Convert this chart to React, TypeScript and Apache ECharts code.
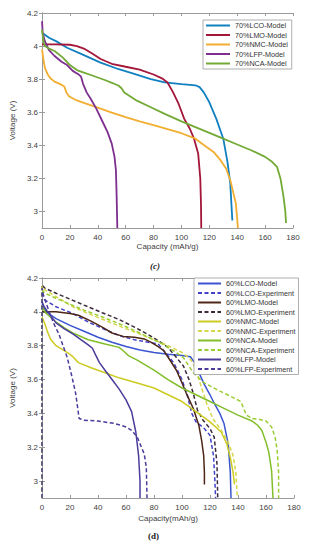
import React, { useEffect, useRef } from "react";
import * as echarts from "echarts";

type P = [number, number][];

// ---- Chart (c): 70% models ----
const lco70: P = [[0,4.08],[5,4.05],[10,4.03],[18,3.99],[30,3.945],[42,3.9],[55,3.86],[65,3.835],[78,3.8],[88,3.78],[100,3.77],[110,3.763],[113,3.752],[116,3.72],[120,3.66],[125,3.56],[130,3.44],[133,3.3],[135,3.17],[136.5,2.945]];
const lmo70: P = [[0,4.01],[10,4.01],[20,4.008],[25,4.0],[30,3.985],[36,3.955],[42,3.922],[50,3.893],[60,3.875],[70,3.858],[80,3.828],[86,3.805],[90,3.78],[94,3.72],[98,3.65],[102,3.56],[106,3.5],[109,3.44],[112,3.35],[113.5,3.2],[114,3.05],[114.2,2.9]];
const nmc70: P = [[0,3.98],[1,3.92],[2,3.87],[4,3.83],[6,3.805],[9,3.785],[13,3.77],[16,3.755],[17.5,3.72],[19.5,3.695],[24,3.675],[30,3.657],[40,3.628],[50,3.598],[60,3.57],[70,3.545],[80,3.522],[90,3.498],[100,3.473],[110,3.44],[118,3.39],[123,3.36],[128,3.31],[132,3.26],[135,3.19],[137,3.12],[139,3.05],[140.5,2.9]];
const lfp70: P = [[0,4.15],[0.5,4.08],[2,4.03],[5,3.975],[9,3.94],[14,3.905],[18,3.885],[22,3.85],[26,3.83],[28,3.815],[29.5,3.77],[32,3.72],[35,3.68],[39,3.62],[43,3.55],[47,3.48],[50,3.41],[52,3.33],[53,3.25],[53.5,3.1],[54,2.9]];
const nca70: P = [[0,4.1],[1,4.03],[2,4.0],[5,3.985],[9,3.97],[15,3.93],[20,3.885],[25,3.855],[30,3.84],[35,3.825],[45,3.795],[51,3.775],[55,3.76],[57,3.745],[59,3.72],[68,3.67],[78,3.63],[88,3.59],[100,3.545],[110,3.51],[120,3.475],[130,3.44],[140,3.405],[150,3.37],[160,3.33],[165,3.3],[168.5,3.27],[171,3.2],[173,3.1],[174.5,3.0],[175,2.93]];

// ---- Chart (d): 60% models and experiments ----
const lcoModel60: P = [[0,4.05],[3,4.0],[10,3.96],[20,3.92],[30,3.885],[40,3.85],[50,3.82],[60,3.795],[70,3.775],[80,3.76],[90,3.75],[100,3.742],[106,3.735],[109,3.7],[111,3.66],[116,3.57],[120,3.51],[123,3.46],[127,3.4],[130,3.34],[133,3.22],[134.5,3.05],[135,2.9]];
const lcoExp60: P = [[0,2.9],[0,4.1],[2,4.07],[10,4.03],[22,3.99],[33,3.94],[45,3.895],[55,3.86],[66,3.835],[76,3.82],[83,3.81],[88,3.76],[94,3.7],[100,3.6],[104,3.5],[107,3.4],[110,3.35],[116,3.31],[120,3.27],[122.5,3.15],[123.5,3.0],[124,2.9]];
const lmoModel60: P = [[0,4.0],[10,4.0],[20,3.99],[26,3.98],[35,3.945],[43,3.91],[50,3.875],[58,3.855],[66,3.85],[73,3.84],[78,3.82],[83,3.795],[87,3.77],[91,3.72],[96,3.655],[100,3.58],[103,3.52],[108,3.43],[112,3.33],[114,3.24],[115.5,3.15],[116,3.05],[116,2.98]];
const lmoExp60: P = [[0,2.9],[0,4.16],[2,4.14],[10,4.11],[20,4.075],[30,4.04],[43,3.995],[55,3.955],[66,3.91],[75,3.87],[82,3.835],[90,3.79],[96,3.73],[101,3.68],[105,3.6],[108,3.52],[111,3.42],[115,3.36],[120,3.31],[123,3.26],[125,3.1],[125.5,2.9]];
const nmcModel60: P = [[0,3.97],[2,3.93],[4,3.88],[6,3.84],[10,3.8],[15,3.775],[19,3.755],[22,3.735],[26,3.7],[35,3.67],[45,3.64],[55,3.61],[68,3.58],[80,3.55],[90,3.51],[100,3.47],[110,3.41],[120,3.35],[128,3.29],[132,3.22],[134.5,3.14],[136.5,3.05],[137.5,2.98]];
const nmcExp60: P = [[0,2.9],[0,4.15],[2,4.13],[10,4.09],[22,4.03],[33,3.99],[45,3.95],[57,3.91],[68,3.875],[80,3.835],[90,3.8],[100,3.76],[106,3.72],[110,3.66],[114,3.55],[118,3.45],[122,3.37],[128,3.3],[133,3.23],[136.5,3.15],[138.5,3.05],[139.5,2.9]];
const ncaModel60: P = [[0,4.03],[3,3.99],[10,3.94],[16,3.905],[22,3.875],[33,3.835],[45,3.81],[55,3.79],[58,3.77],[62,3.74],[68,3.715],[80,3.655],[90,3.6],[100,3.55],[110,3.51],[120,3.47],[130,3.43],[140,3.39],[150,3.355],[154,3.33],[157,3.3],[160,3.23],[162,3.17],[164,3.06],[165,2.9]];
const ncaExp60: P = [[0,2.9],[0,4.13],[2,4.11],[10,4.08],[20,4.045],[30,4.01],[43,3.97],[55,3.93],[66,3.89],[76,3.85],[85,3.815],[95,3.765],[101,3.73],[108,3.64],[115,3.585],[125,3.54],[135,3.5],[142,3.47],[144,3.43],[146,3.39],[150,3.37],[155,3.365],[160,3.355],[164,3.32],[166.5,3.26],[168,3.18],[169,3.05],[169,2.9]];
const lfpModel60: P = [[0,4.06],[1.5,4.03],[4,4.0],[10,3.935],[16,3.9],[22,3.87],[28,3.835],[33,3.805],[36,3.785],[38,3.75],[41,3.7],[45,3.655],[50,3.6],[55,3.545],[60,3.48],[64,3.41],[67,3.29],[69,3.15],[70,3.0],[70,2.9]];
const lfpExp60: P = [[0,2.9],[0,4.14],[1,4.1],[3,4.05],[6,3.98],[9,3.92],[12,3.87],[15,3.8],[18,3.73],[21,3.63],[24,3.52],[25.5,3.43],[26.5,3.37],[30,3.36],[40,3.355],[52,3.34],[60,3.32],[64,3.3],[68,3.26],[71,3.2],[73,3.16],[74.5,3.08],[75,2.9]];

const yTicks = [3, 3.2, 3.4, 3.6, 3.8, 4, 4.2];
const xTicks = [0, 20, 40, 60, 80, 100, 120, 140, 160, 180];

const FONT = "Liberation Sans, Arial, sans-serif";
const AXIS_COLOR = "#9a9a9a";
const LABEL_COLOR = "#404040";

function xAxes(gridIndex: number, nameGap: number, name: string) {
  return [
    {
      type: "value", gridIndex, position: "bottom", min: 0, max: 180, interval: 20,
      name, nameLocation: "middle", nameGap,
      nameTextStyle: { fontSize: 8, color: LABEL_COLOR, fontFamily: FONT },
      axisLine: { lineStyle: { color: AXIS_COLOR, width: 1 } },
      axisTick: { inside: true, length: 3, lineStyle: { color: AXIS_COLOR } },
      axisLabel: { fontSize: 8, color: LABEL_COLOR, margin: 5, fontFamily: FONT, customValues: xTicks },
      splitLine: { show: false },
    },
    {
      type: "value", gridIndex, position: "top", min: 0, max: 180, interval: 20,
      axisLine: { lineStyle: { color: AXIS_COLOR, width: 1 } },
      axisTick: { inside: true, length: 3, lineStyle: { color: AXIS_COLOR } },
      axisLabel: { show: false },
      splitLine: { show: false },
    },
  ];
}

function yAxes(gridIndex: number, nameGap: number) {
  return [
    {
      type: "value", gridIndex, position: "left", min: 2.9, max: 4.2,
      name: "Voltage (V)", nameLocation: "middle", nameGap,
      nameTextStyle: { fontSize: 8, color: LABEL_COLOR, fontFamily: FONT },
      axisLine: { show: true, lineStyle: { color: AXIS_COLOR, width: 1 } },
      axisTick: { show: true, inside: true, length: 3, lineStyle: { color: AXIS_COLOR }, customValues: yTicks },
      axisLabel: { fontSize: 8, color: LABEL_COLOR, margin: 4, fontFamily: FONT, customValues: yTicks, formatter: (v: number) => String(Math.round(v * 10) / 10) },
      splitLine: { show: false },
    },
    {
      type: "value", gridIndex, position: "right", min: 2.9, max: 4.2,
      axisLine: { show: true, lineStyle: { color: AXIS_COLOR, width: 1 } },
      axisTick: { show: true, inside: true, length: 3, lineStyle: { color: AXIS_COLOR }, customValues: yTicks },
      axisLabel: { show: false },
      splitLine: { show: false },
    },
  ];
}

function line(name: string, data: P, color: string, axis: number, width: number, dashed = false) {
  return {
    type: "line", name, data, xAxisIndex: axis, yAxisIndex: axis,
    symbol: "none", smooth: false, silent: true,
    lineStyle: { color, width, type: dashed ? [4, 2.5] : "solid" },
    itemStyle: { color },
  };
}

export default function App() {
  const ref = useRef<HTMLDivElement>(null);
  useEffect(() => {
    if (!ref.current) return;
    const chart = echarts.init(ref.current, undefined, { renderer: "svg" });
    const series = [
      line("70%LCO-Model", lco70, "#1080C0", 0, 1.8),
      line("70%LMO-Model", lmo70, "#A3163A", 0, 1.8),
      line("70%NMC-Model", nmc70, "#F2AE30", 0, 1.8),
      line("70%LFP-Model", lfp70, "#7E2F8E", 0, 1.8),
      line("70%NCA-Model", nca70, "#72AA35", 0, 1.8),
      line("60%LCO-Model", lcoModel60, "#3A55CF", 2, 1.5),
      line("60%LCO-Experiment", lcoExp60, "#4040C8", 2, 1.5, true),
      line("60%LMO-Model", lmoModel60, "#4D2618", 2, 1.5),
      line("60%LMO-Experiment", lmoExp60, "#3A2A3A", 2, 1.5, true),
      line("60%NMC-Model", nmcModel60, "#CDCB22", 2, 1.5),
      line("60%NMC-Experiment", nmcExp60, "#D6D64A", 2, 1.5, true),
      line("60%NCA-Model", ncaModel60, "#80BE2A", 2, 1.5),
      line("60%NCA-Experiment", ncaExp60, "#9ACD32", 2, 1.5, true),
      line("60%LFP-Model", lfpModel60, "#4B3B9B", 2, 1.5),
      line("60%LFP-Experiment", lfpExp60, "#4B3B9B", 2, 1.5, true),
    ];
    const legendBase = {
      orient: "vertical", itemWidth: 24, itemHeight: 8, itemGap: 2.5,
      backgroundColor: "#ffffff", borderColor: "#9a9a9a", borderWidth: 0.8, borderRadius: 0,
      textStyle: { fontSize: 7.2, color: "#333", fontFamily: FONT },
      itemStyle: { opacity: 0 },
      selectedMode: false,
    };
    chart.setOption({
      animation: false,
      grid: [
        { left: 37, top: 13, width: 256, height: 215 },
        { left: 35, top: 278, width: 259, height: 220 },
      ],
      xAxis: [...xAxes(0, 14, "Capacity (mAh/g)"), ...xAxes(1, 16, "Capacity(mAh/g)")],
      yAxis: [...yAxes(0, 18), ...yAxes(1, 16)],
      legend: [
        { ...legendBase, left: 203, top: 20, padding: [2, 4, 2, 2], data: series.slice(0, 5).map((s) => s.name) },
        { ...legendBase, left: 194, top: 278, padding: [2, 3, 2, 3], itemWidth: 23, data: series.slice(5).map((s) => s.name) },
      ],
      graphic: [
        { type: "text", left: 150, top: 261, style: { text: "(c)", fontSize: 9, fontStyle: "italic", fontWeight: "bold", fontFamily: "Liberation Serif, DejaVu Serif, serif", fill: "#222" } },
        { type: "text", left: 148, top: 531, style: { text: "(d)", fontSize: 9, fontWeight: "bold", fontFamily: "Liberation Serif, DejaVu Serif, serif", fill: "#222" } },
      ],
      series,
    });
    return () => chart.dispose();
  }, []);
  return <div ref={ref} style={{ position: "fixed", left: 0, top: 0, width: 311, height: 550, background: "#fff" }} />;
}
